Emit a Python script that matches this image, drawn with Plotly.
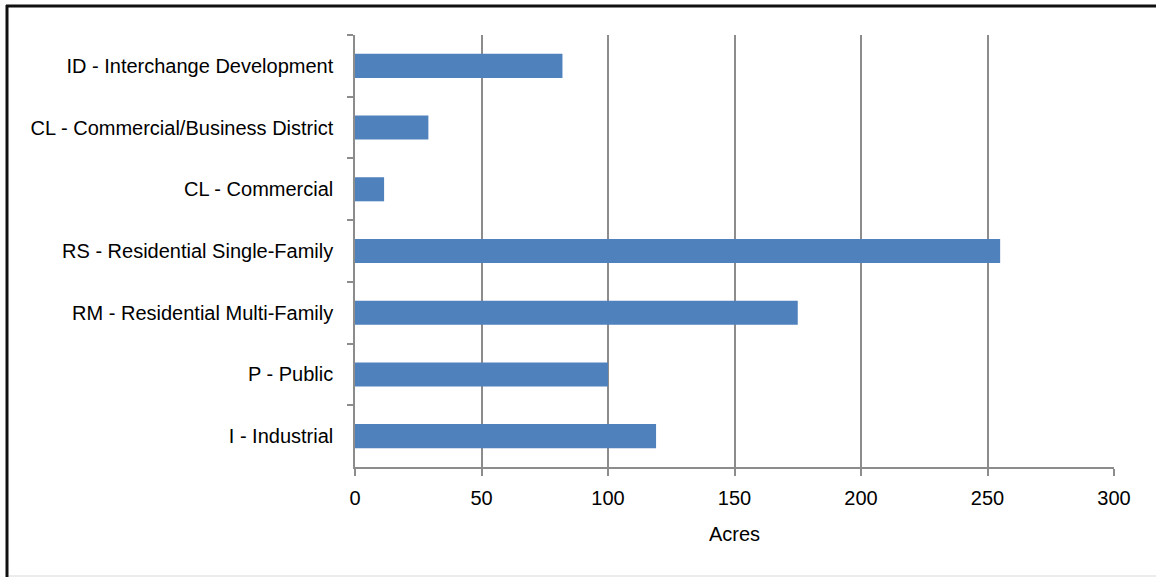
import plotly.graph_objects as go

# Land use categories (top to bottom) and their areas in acres
categories = [
    "ID - Interchange Development",
    "CL - Commercial/Business District",
    "CL - Commercial",
    "RS - Residential Single-Family",
    "RM - Residential Multi-Family",
    "P - Public",
    "I - Industrial",
]
acres = [82, 29, 11.5, 255, 175, 100, 119]
x_ticks = [0, 50, 100, 150, 200, 250, 300]

BAR = "#4F81BD"
GRID = "#8C8C8C"
FONT = "Liberation Sans"
FS = 20

fig = go.Figure(
    go.Bar(
        x=acres,
        y=categories,
        orientation="h",
        marker=dict(color=BAR, line=dict(width=0)),
        width=0.39,
    )
)

fig.update_layout(
    width=1156,
    height=577,
    margin=dict(l=355, r=42, t=35, b=110),
    paper_bgcolor="white",
    plot_bgcolor="white",
    showlegend=False,
    font=dict(family=FONT, size=FS, color="#000000"),
    xaxis=dict(
        range=[0, 300],
        tickvals=x_ticks,
        showgrid=True,
        gridcolor=GRID,
        gridwidth=1.5,
        showline=True,
        linecolor=GRID,
        linewidth=1.5,
        ticks="outside",
        ticklen=7,
        tickcolor=GRID,
        tickwidth=1.5,
        ticklabelstandoff=5,
        zeroline=False,
        automargin=False,
        tickfont=dict(family=FONT, size=FS),
        title=dict(text="Acres", font=dict(family=FONT, size=FS), standoff=19),
        fixedrange=True,
    ),
    yaxis=dict(
        categoryorder="array",
        categoryarray=categories,
        autorange="reversed",
        showgrid=False,
        showline=True,
        linecolor=GRID,
        linewidth=1.5,
        ticks="outside",
        tickson="boundaries",
        ticklen=6,
        tickcolor=GRID,
        tickwidth=1.5,
        ticklabelstandoff=16,
        automargin=False,
        tickfont=dict(family=FONT, size=FS),
        fixedrange=True,
    ),
    shapes=[
        # chart frame: dark top and left edges, faint bottom edge
        dict(type="line", xref="paper", yref="paper",
             x0=(6 - 355) / 759, x1=(1160 - 355) / 759,
             y0=(467 - 6) / 432, y1=(467 - 6) / 432,
             line=dict(color="#111111", width=3)),
        dict(type="line", xref="paper", yref="paper",
             x0=(7 - 355) / 759, x1=(7 - 355) / 759,
             y0=(467 - 5) / 432, y1=(467 - 577) / 432,
             line=dict(color="#111111", width=3)),
        dict(type="line", xref="paper", yref="paper",
             x0=(9 - 355) / 759, x1=(1160 - 355) / 759,
             y0=(467 - 576) / 432, y1=(467 - 576) / 432,
             line=dict(color="#E6E6E6", width=1.5)),
    ],
)

fig.write_html("out.html")
